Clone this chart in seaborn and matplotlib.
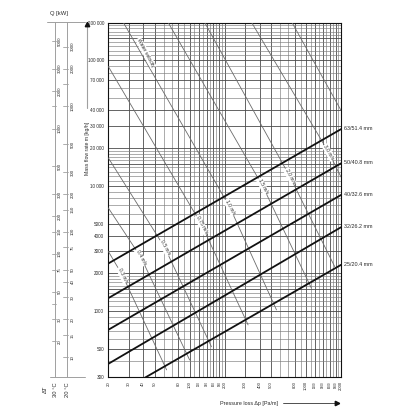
import numpy as np
import pandas as pd
import matplotlib
matplotlib.use("Agg")
import matplotlib.pyplot as plt
from matplotlib.ticker import FixedLocator, NullFormatter
import seaborn as sns

# ---------------- data ----------------
pipe_labels = ["63/51.4 mm", "50/40.8 mm", "40/32.6 mm", "32/26.2 mm", "25/20.4 mm"]
pipe_dp = [20, 2000]
pipe_m_start = [2400, 1270, 710, 380, 200]
pipe_m_end = [28300, 15100, 8450, 4670, 2340]

vel_labels = ["0.3 m/s", "0.4 m/s", "0.5 m/s", "0.75 m/s", "1.0 m/s",
              "1.5 m/s", "2.0 m/s", "3.0 m/s", ""]
vel_dp = [[20, 26.5, 63.4], [20, 38.2, 100], [20, 61.3, 154], [20, 127, 318],
          [27, 222, 558], [65.5, 426, 1114], [135, 726, 1766], [342, 1568, 2000],
          [760, 2000]]
vel_m = [[3000, 1930, 340], [6660, 2680, 408], [16700, 3200, 520], [89500, 4870, 777],
         [200000, 6720, 1023], [200000, 9880, 1524], [200000, 11870, 2266],
         [200000, 18450, 11760], [200000, 40000]]
water_label = "Water velocity"
water_label_pos = (42.1, 114700)

y_ticks = [300, 500, 1000, 1500, 2000, 3000, 4000, 5000, 10000, 15000, 20000,
           30000, 40000, 70000, 100000, 150000, 200000]
y_tick_labels = ["300", "500", "1000", "", "2000", "3000", "4000", "5000", "10 000", "",
                 "20 000", "30 000", "40 000", "70 000", "100 000", "", "200 000"]
x_ticks = [20, 30, 40, 50, 80, 100, 120, 140, 160, 180, 200, 300, 400, 500, 800,
           1000, 1200, 1400, 1600, 1800, 2000]
x_tick_labels = [str(v) for v in x_ticks]
x_small_labels = ["120", "140", "160", "180", "1200", "1400", "1600", "1800"]

grid_y = (list(range(300, 1000, 100)) + list(range(1000, 2000, 100)) +
          list(range(2000, 10000, 1000)) + list(range(10000, 20000, 1000)) +
          list(range(20000, 100000, 10000)) + list(range(100000, 200001, 10000)))
grid_x = (list(range(20, 100, 10)) + list(range(100, 200, 10)) +
          list(range(200, 1000, 100)) + list(range(1000, 2001, 100)))

q30_ticks = [5000, 3000, 2000, 1500, 1000, 500, 300, 200, 150, 100, 75, 50, 40, 30, 20]
q30_labels = ["5000", "3000", "2000", "", "1000", "500", "300", "200", "150", "100",
              "75", "50", "", "30", "20"]
q20_ticks = [3000, 2000, 1500, 1000, 500, 300, 200, 150, 100, 75, 50, 40, 30, 20, 15, 10]
q20_labels = ["3000", "2000", "", "1000", "500", "300", "200", "150", "100", "75",
              "50", "40", "30", "20", "15", "10"]
delta_t = [30, 20]
c_water = 4.19  # kJ/kgK

# ---------------- style ----------------
sns.set_theme(style="white")
plt.rcParams["font.family"] = ["Liberation Sans", "DejaVu Sans"]
plt.rcParams["axes.linewidth"] = 0.8
TXT = "#2a2a2a"

W = 416.0
fig = plt.figure(figsize=(4.16, 4.16), dpi=100)
L, R, T, B = 108.3, 341.0, 22.7, 376.7
ax = fig.add_axes([L / W, 1 - B / W, (R - L) / W, (B - T) / W])
ax.set_xscale("log")
ax.set_yscale("log")
ax.set_xlim(20, 2000)
ax.set_ylim(300, 200000)

# grid
ax.xaxis.set_minor_locator(FixedLocator(grid_x))
ax.yaxis.set_minor_locator(FixedLocator(grid_y))
ax.xaxis.set_minor_formatter(NullFormatter())
ax.yaxis.set_minor_formatter(NullFormatter())
ax.grid(which="minor", color="#7d7d7d", lw=0.45)
ax.grid(which="major", color="#4a4a4a", lw=0.6)
ax.set_axisbelow(True)

ax.set_xticks(x_ticks)
ax.set_xticklabels(x_tick_labels, rotation=90)
ax.set_yticks(y_ticks)
ax.set_yticklabels(y_tick_labels)
ax.tick_params(axis="y", which="major", length=2.2, width=0.5, pad=0.8,
               labelsize=3.3, color="#333333", labelcolor=TXT)
ax.tick_params(axis="x", which="major", length=1.5, width=0.5, pad=1.8,
               labelsize=3.1, color="#333333", labelcolor=TXT)
ax.tick_params(which="minor", length=0)
for lab in ax.get_xticklabels():
    if lab.get_text() in x_small_labels:
        lab.set_fontsize(2.2)
for s in ax.spines.values():
    s.set_color("#111111")

# velocity lines
vrows = []
for i, (dps, ms) in enumerate(zip(vel_dp, vel_m)):
    for d, m in zip(dps, ms):
        vrows.append({"line": i, "dp": d, "m": m})
df_v = pd.DataFrame(vrows)
sns.lineplot(data=df_v, x="dp", y="m", units="line", estimator=None, sort=False,
             color="#6b6b6b", lw=0.6, ax=ax, legend=False, zorder=3)

# pipe lines
prows = []
for lab, m0, m1 in zip(pipe_labels, pipe_m_start, pipe_m_end):
    prows.append({"pipe": lab, "dp": pipe_dp[0], "m": m0})
    prows.append({"pipe": lab, "dp": pipe_dp[1], "m": m1})
df_p = pd.DataFrame(prows)
sns.lineplot(data=df_p, x="dp", y="m", units="pipe", estimator=None,
             color="#111111", lw=1.3, ax=ax, legend=False, zorder=4)
ax.set_xlabel("")
ax.set_ylabel("")
ax.set_xlim(20, 2000)
ax.set_ylim(300, 200000)

for lab, m1 in zip(pipe_labels, pipe_m_end):
    ax.annotate(lab, (2000, m1), xytext=(2.3, 0.3), textcoords="offset points",
                ha="left", va="center", fontsize=3.9, color=TXT,
                annotation_clip=False)

# velocity labels
def angle_of(dps, ms):
    p0 = ax.transData.transform((dps[0], ms[0]))
    p1 = ax.transData.transform((dps[-1], ms[-1]))
    return np.degrees(np.arctan2(p1[1] - p0[1], p1[0] - p0[0]))

for lab, dps, ms in zip(vel_labels, vel_dp, vel_m):
    if not lab:
        continue
    ax.text(dps[1], ms[1], lab, rotation=angle_of(dps, ms), rotation_mode="anchor",
            ha="center", va="center", fontsize=3.6, color=TXT, zorder=5,
            bbox=dict(boxstyle="square,pad=0.15", fc="white", ec="none"))
ax.text(water_label_pos[0], water_label_pos[1], water_label,
        rotation=angle_of(vel_dp[4], vel_m[4]), rotation_mode="anchor",
        ha="center", va="center", fontsize=3.6, color=TXT, zorder=5,
        bbox=dict(boxstyle="square,pad=0.15", fc="white", ec="none"))

# ---------------- left Q scales ----------------
ax2 = fig.add_axes([0, 1 - B / W, L / W, (B - T) / W])
ax2.set_yscale("log")
ax2.set_xlim(0, L)
ax2.set_ylim(300, 200000)
ax2.axis("off")
m_top = 200000 * 10 ** (1 / 125.4)
line_x = [55.0, 66.7]
SC = "#a0a0a0"
for xl in line_x:
    ax2.plot([xl, xl], [300, m_top], color=SC, lw=0.7, clip_on=False)
ax2.plot([46.7, 85], [m_top, m_top], color=SC, lw=0.7, clip_on=False)
ax2.plot([50, 85], [300, 300], color=SC, lw=0.7, clip_on=False)

for xl, dt, ticks, labels, lx in [(line_x[0], delta_t[0], q30_ticks, q30_labels, 60.0),
                                  (line_x[1], delta_t[1], q20_ticks, q20_labels, 72.5)]:
    for q, lab in zip(ticks, labels):
        m = q * 3600 / (c_water * dt)
        ax2.plot([xl - 3.3, xl + 1.0], [m, m], color=SC, lw=0.6, clip_on=False)
        if lab:
            ax2.text(lx, m, lab, rotation=90, ha="center", va="center",
                     fontsize=3.2, color=TXT, clip_on=False)

def ftxt(x, y, s, **kw):
    fig.text(x / W, 1 - y / W, s, **kw)

ftxt(59, 13.5, "Q [kW]", ha="center", va="center", fontsize=4.2, color=TXT)
ftxt(45, 389, "ΔT", rotation=90, ha="center", va="center", fontsize=4.2, color=TXT)
ftxt(55.5, 390, "30 °C", rotation=90, ha="center", va="center", fontsize=4.2, color=TXT)
ftxt(67.8, 390, "20 °C", rotation=90, ha="center", va="center", fontsize=4.2, color=TXT)
ftxt(87.5, 148, "Mass flow rate m [kg/h]", rotation=90, ha="center", va="center",
     fontsize=3.7, color=TXT)
ftxt(249, 403, "Pressure loss Δp [Pa/m]", ha="center", va="center",
     fontsize=3.9, color=TXT)

# arrows
fig.add_artist(plt.Line2D([87 / W, 87 / W], [1 - 108 / W, 1 - 25 / W],
                          transform=fig.transFigure, color=SC, lw=0.8))
fig.add_artist(plt.Line2D([87 / W], [1 - 24 / W], transform=fig.transFigure,
                          marker="^", ms=3.2, color="#111111", lw=0))
fig.add_artist(plt.Line2D([283 / W, 336 / W], [1 - 403 / W, 1 - 403 / W],
                          transform=fig.transFigure, color="#333333", lw=0.6))
fig.add_artist(plt.Line2D([337 / W], [1 - 403 / W], transform=fig.transFigure,
                          marker=">", ms=3.2, color="#111111", lw=0))

fig.savefig("out.png", dpi=100, facecolor="white")
